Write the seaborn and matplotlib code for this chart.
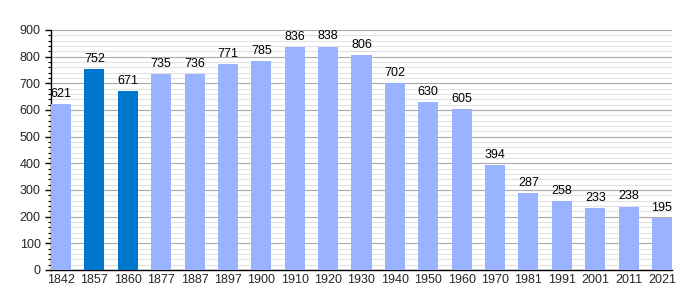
import matplotlib
matplotlib.use("Agg")
import matplotlib.pyplot as plt
import seaborn as sns
import pandas as pd
from matplotlib.ticker import MultipleLocator

years = ["1842", "1857", "1860", "1877", "1887", "1897", "1900", "1910", "1920", "1930",
         "1940", "1950", "1960", "1970", "1981", "1991", "2001", "2011", "2021"]
population = [621, 752, 671, 735, 736, 771, 785, 836, 838, 806,
              702, 630, 605, 394, 287, 258, 233, 238, 195]
highlight = ["1857", "1860"]

light = "#99b3ff"
dark = "#0077cc"

df = pd.DataFrame({"year": years, "pop": population})
palette = {y: (dark if y in highlight else light) for y in years}

sns.set_style("white")
plt.rcParams["font.family"] = ["Liberation Sans", "DejaVu Sans"]

fig = plt.figure(figsize=(7, 3), dpi=100)
ax = fig.add_axes([51/700, 30/300, 621/700, 240/300])

sns.barplot(data=df, x="year", y="pop", hue="year", palette=palette, legend=False,
            width=0.6, saturation=1, linewidth=0, ax=ax, zorder=3)

ax.set_ylim(0, 900)
ax.set_xlim(-0.3, len(years) - 0.7)
ax.yaxis.set_major_locator(MultipleLocator(100))
ax.yaxis.set_minor_locator(MultipleLocator(20))
ax.grid(axis="y", which="major", color="#aaaaaa", linewidth=0.8, zorder=0)
ax.grid(axis="y", which="minor", color="#e2e2e2", linewidth=0.8, zorder=0)
ax.set_axisbelow(True)

for s in ["top", "right"]:
    ax.spines[s].set_visible(False)
for s in ["left", "bottom"]:
    ax.spines[s].set_color("black")
    ax.spines[s].set_linewidth(1)

ax.tick_params(axis="y", which="major", length=4, width=1, labelsize=9, color="black", left=True)
ax.tick_params(axis="y", which="minor", length=2, width=0.8, color="black", left=True)
ax.tick_params(axis="x", length=0, labelsize=9, pad=3)
ax.set_xlabel("")
ax.set_ylabel("")

for c in ax.containers:
    ax.bar_label(c, fontsize=9, padding=3, color="black")

fig.savefig("out.png", dpi=100)
